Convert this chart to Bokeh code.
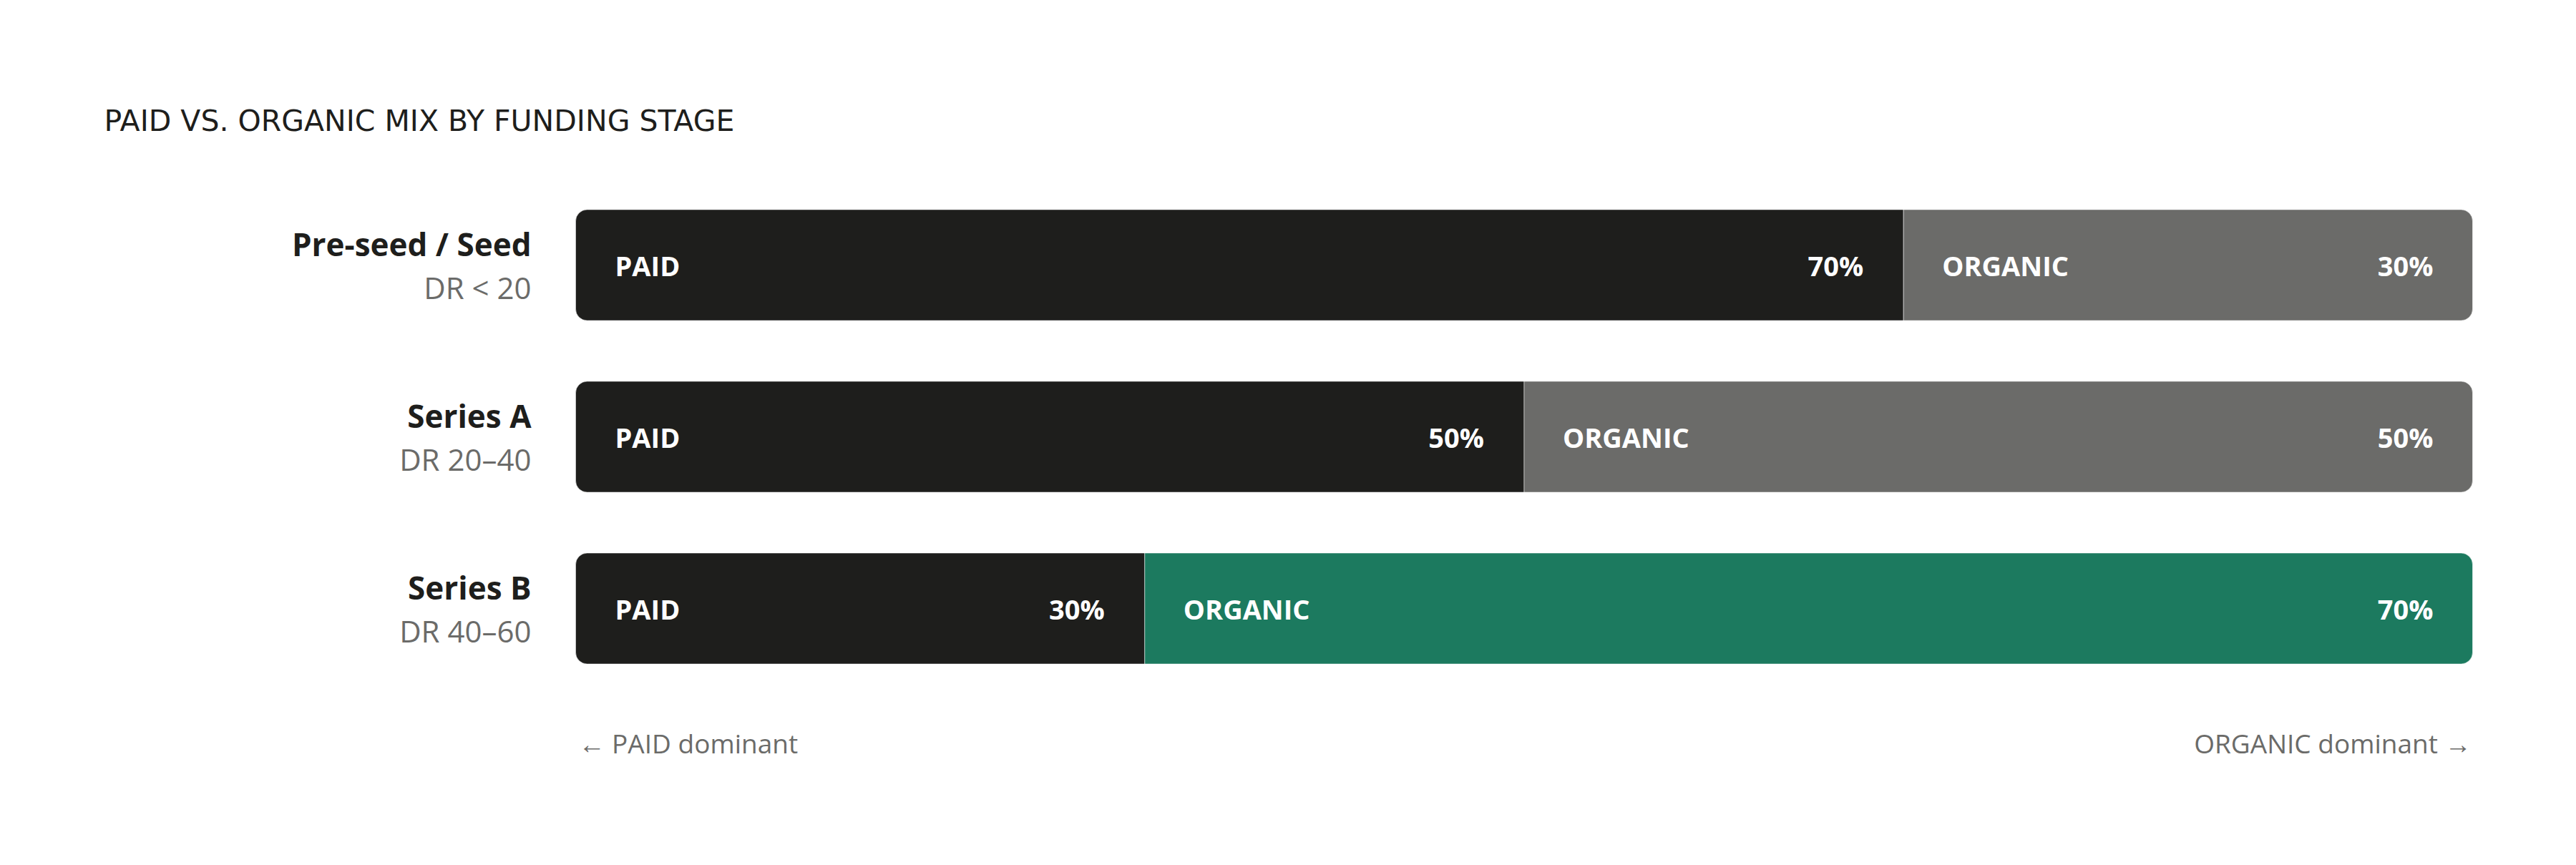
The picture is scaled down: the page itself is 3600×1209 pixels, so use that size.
from bokeh.plotting import figure
from bokeh.models import Range1d, ColumnDataSource
from bokeh.core.properties import value
from bokeh.embed import file_html
from bokeh.resources import INLINE

# ---- data ----
stages = ["Pre-seed / Seed", "Series A", "Series B"]
dr_bands = ["DR < 20", "DR 20–40", "DR 40–60"]
paid = [70, 50, 30]
organic = [30, 50, 70]
paid_label = "PAID"
organic_label = "ORGANIC"
title_text = "PAID VS. ORGANIC MIX BY FUNDING STAGE"
left_note = "← PAID dominant"
right_note = "ORGANIC dominant →"

# ---- style ----
FONT = "Open Sans"
TITLE_FONT = "DejaVu Sans"
C_PAID = "#1e1e1c"
C_ORG = "#6b6b69"
C_ORG_DOM = "#1c7a5f"
C_TEXT = "#1e1e1c"
C_MUTED = "#6b6b69"

# ---- layout (canvas px) ----
W, H = 3584, 1193
BAR_L, BAR_R = 804, 3455
ROW0, STEP = 370, 240
BAR_H_PX = 155
RADIUS = 16

pxu = (BAR_R - BAR_L) / 100.0
x_range = Range1d(-BAR_L / pxu, 100 + (W - BAR_R) / pxu)
y_range = Range1d((H - ROW0) / STEP, -ROW0 / STEP)

p = figure(width=W, height=H, x_range=x_range, y_range=y_range,
           output_backend="svg", toolbar_location=None,
           x_axis_location=None, y_axis_location=None,
           min_border=0, outline_line_color=None,
           background_fill_color="white", border_fill_color="white")
p.grid.visible = False

n = len(stages)
rows = list(range(n))
total = [a + b for a, b in zip(paid, organic)]
org_colors = [C_ORG_DOM if o > pv else C_ORG for o, pv in zip(organic, paid)]

src = ColumnDataSource(dict(
    row=rows, stage=stages, dr=dr_bands, paid=paid, organic=organic,
    total=total, zero=[0] * n, org_color=org_colors,
    paid_txt=[f"{v}%" for v in paid], org_txt=[f"{v}%" for v in organic],
    plab=[paid_label] * n, olab=[organic_label] * n,
))

bh = BAR_H_PX / STEP
p.hbar(y="row", left="zero", right="paid", height=bh, source=src,
       fill_color=C_PAID, line_color="white", line_alpha=0.5, line_width=1,
       border_radius=(RADIUS, 0, 0, RADIUS))
p.hbar(y="row", left="paid", right="total", height=bh, source=src,
       fill_color="org_color", line_color="white", line_alpha=0.5, line_width=1,
       border_radius=(0, RADIUS, RADIUS, 0))

common = dict(source=src, text_baseline="middle", text_font=value(FONT))
inbar = dict(text_color="white", text_font_style="bold", text_font_size="38px")
p.text(x="zero", y="row", text="plab", x_offset=55, text_align="left", **inbar, **common)
p.text(x="paid", y="row", text="paid_txt", x_offset=-56, text_align="right", **inbar, **common)
p.text(x="paid", y="row", text="olab", x_offset=54, text_align="left", **inbar, **common)
p.text(x="total", y="row", text="org_txt", x_offset=-55, text_align="right", **inbar, **common)

# row labels
p.text(x="zero", y="row", text="stage", x_offset=-62, y_offset=-30, text_align="right",
       text_color=C_TEXT, text_font_style="bold", text_font_size="44px", **common)
p.text(x="zero", y="row", text="dr", x_offset=-62, y_offset=31, text_align="right",
       text_color=C_MUTED, text_font_size="42px", **common)

# title
p.text(x=[0], y=[0], text=[title_text], x_offset=145 - BAR_L, y_offset=168 - ROW0,
       text_align="left", text_baseline="middle", text_font=value(TITLE_FONT),
       text_color=C_TEXT, text_font_size="41px")

# bottom notes
note_y = [n - 1]
p.text(x=[0], y=note_y, text=[left_note], x_offset=4, y_offset=188,
       text_align="left", text_baseline="middle", text_font=value(FONT),
       text_color=C_MUTED, text_font_size="37px")
p.text(x=[100], y=note_y, text=[right_note], x_offset=-2, y_offset=188,
       text_align="right", text_baseline="middle", text_font=value(FONT),
       text_color=C_MUTED, text_font_size="37px")

open("out.html", "w").write(file_html(p, INLINE))
